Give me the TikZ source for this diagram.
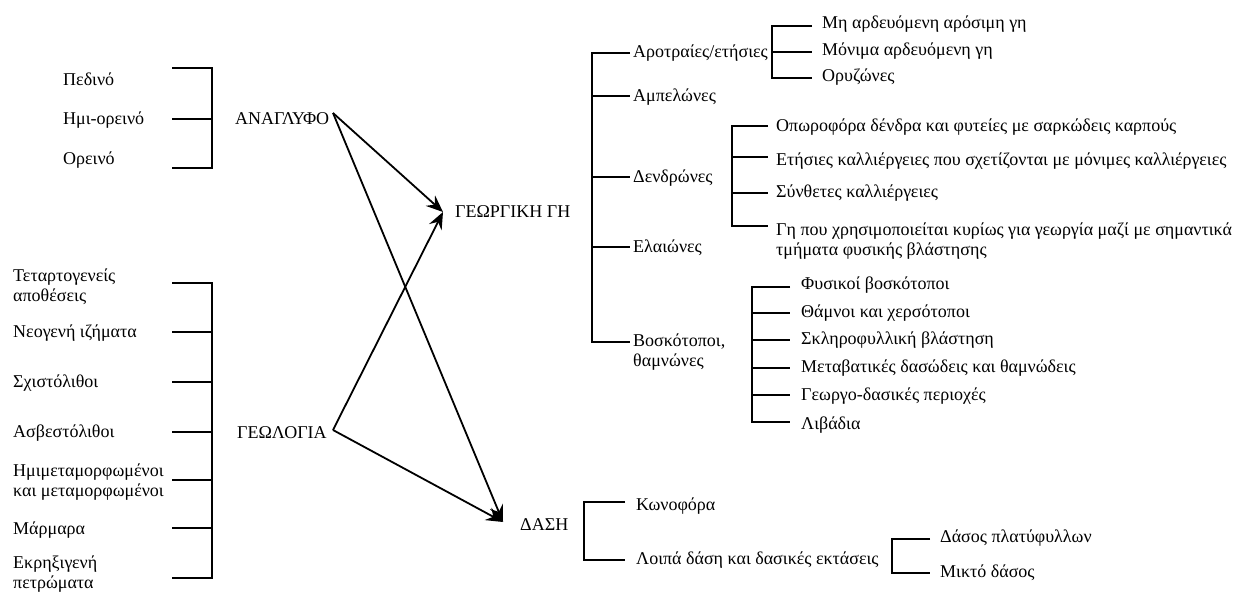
\documentclass[tikz,border=0pt]{standalone}
\usepackage{fontspec}
\setmainfont{Liberation Serif}
\usetikzlibrary{arrows.meta}
\begin{document}
\begin{tikzpicture}[x=1pt,y=-1pt,
  lbl/.style={anchor=west,inner sep=0pt,font=\fontsize{18}{20}\selectfont,align=left},
  lblv/.style={anchor=base west,inner sep=0pt,font=\fontsize{18}{20}\selectfont},
  br/.style={line width=2pt},
  arr/.style={line width=1.8pt,-{Stealth[length=17pt,width=14pt,inset=6pt]}}]
\useasboundingbox (0,0) rectangle (1245,598);
% top-left: relief
\node[lbl] (ped) at (63,79) {Πεδινό};
\node[lbl] (hmi) at (63,120) {Ημι-ορεινό};
\node[lbl] (ore) at (63,160) {Ορεινό};
\node[lbl] (anag) at (235,119) {ΑΝΑΓΛΥΦΟ};
\draw[br] (172,68) -- (212,68) -- (212,168) -- (172,168);
\draw[br] (172,119) -- (212,119);
% bottom-left: geology
\node[lbl] (ter) at (13,287) {Τεταρτογενείς\\αποθέσεις};
\node[lbl] (neo) at (13,333) {Νεογενή ιζήματα};
\node[lbl] (sxi) at (13,383) {Σχιστόλιθοι};
\node[lbl] (asv) at (13,433) {Ασβεστόλιθοι};
\node[lbl] (hmim) at (13,482) {Ημιμεταμορφωμένοι\\και μεταμορφωμένοι};
\node[lbl] (mar) at (13,530) {Μάρμαρα};
\node[lbl] (ekr) at (13,574) {Εκρηξιγενή\\πετρώματα};
\node[lbl] (geol) at (237,433) {ΓΕΩΛΟΓΙΑ};
\draw[br] (172,283) -- (212,283) -- (212,578) -- (172,578);
\foreach \yy in {332,382,432,480,528} \draw[br] (172,\yy) -- (212,\yy);
% centre
\node[lbl] (geo) at (455,212) {ΓΕΩΡΓΙΚΗ ΓΗ};
\node[lbl] (dasi) at (520,525) {ΔΑΣΗ};
\coordinate (anagout) at (333,113);
\coordinate (geolout) at (333,430);
\coordinate (geoin) at (443,212);
\coordinate (dasiin) at (503,522);
\draw[arr] (anagout) -- (geoin);
\draw[arr] (anagout) -- (dasiin);
\draw[arr] (geolout) -- (geoin);
\draw[arr] (geolout) -- (dasiin);
% agricultural land tree
\node[lbl] (arot) at (633,53) {Αροτραίες/ετήσιες};
\node[lbl] (ampe) at (633,97) {Αμπελώνες};
\node[lbl] (dend) at (633,178) {Δενδρώνες};
\node[lbl] (elai) at (633,248) {Ελαιώνες};
\node[lblv] (bosk) at (633,346) {\vtop{\hbox{Βοσκότοποι,}\hbox{θαμνώνες}}};
\draw[br] (630,53) -- (592,53) -- (592,342) -- (630,342);
\foreach \yy in {96,177,247} \draw[br] (592,\yy) -- (630,\yy);
% arable
\draw[br] (812,26) -- (772,26) -- (772,78) -- (812,78);
\draw[br] (772,52) -- (812,52);
\node[lbl] (a1) at (822,24) {Μη αρδευόμενη αρόσιμη γη};
\node[lbl] (a2) at (822,51) {Μόνιμα αρδευόμενη γη};
\node[lbl] (a3) at (822,77) {Ορυζώνες};
% orchards
\draw[br] (768,126) -- (732,126) -- (732,226) -- (768,226);
\draw[br] (732,157) -- (768,157);
\draw[br] (732,193) -- (768,193);
\node[lbl] (d1) at (776,127) {Οπωροφόρα δένδρα και φυτείες με σαρκώδεις καρπούς};
\node[lbl] (d2) at (776,161) {Ετήσιες καλλιέργειες που σχετίζονται με μόνιμες καλλιέργειες};
\node[lbl] (d3) at (776,193) {Σύνθετες καλλιέργειες};
\node[lblv] (d4) at (776,235) {\vtop{\hbox{Γη που χρησιμοποιείται κυρίως για γεωργία μαζί με σημαντικά}\hbox{τμήματα φυσικής βλάστησης}}};
% pastures
\draw[br] (790,287) -- (752,287) -- (752,422) -- (790,422);
\foreach \yy in {313,340,368,395} \draw[br] (752,\yy) -- (790,\yy);
\node[lbl] (b1) at (801,285) {Φυσικοί βοσκότοποι};
\node[lbl] (b2) at (801,313) {Θάμνοι και χερσότοποι};
\node[lbl] (b3) at (801,340) {Σκληροφυλλική βλάστηση};
\node[lbl] (b4) at (801,368) {Μεταβατικές δασώδεις και θαμνώδεις};
\node[lbl] (b5) at (801,396) {Γεωργο-δασικές περιοχές};
\node[lbl] (b6) at (801,425) {Λιβάδια};
% forests
\draw[br] (625,502) -- (584,502) -- (584,560) -- (625,560);
\node[lbl] (f1) at (636,506) {Κωνοφόρα};
\node[lbl] (f2) at (636,560) {Λοιπά δάση και δασικές εκτάσεις};
\draw[br] (930,539) -- (892,539) -- (892,573) -- (930,573);
\node[lbl] (f3) at (940,538) {Δάσος πλατύφυλλων};
\node[lbl] (f4) at (940,573) {Μικτό δάσος};
\end{tikzpicture}
\end{document}
